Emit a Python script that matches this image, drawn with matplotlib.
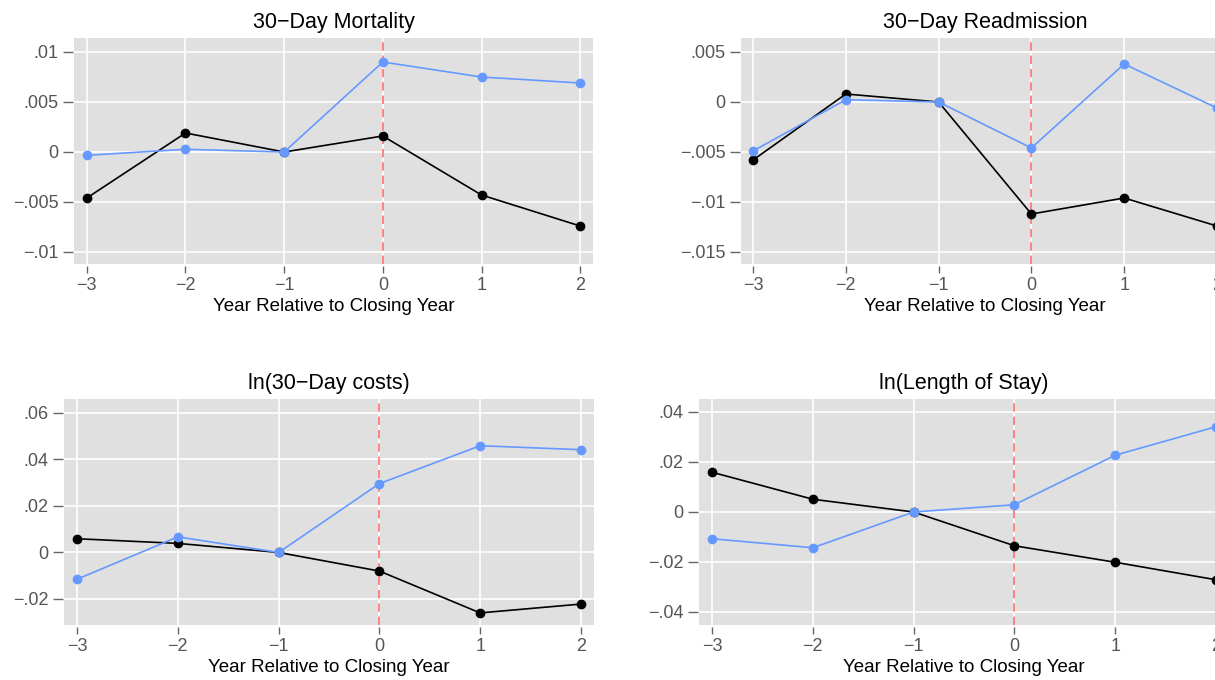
import matplotlib
matplotlib.use("Agg")
import matplotlib.pyplot as plt

plt.rcParams['font.family'] = ['Liberation Sans', 'DejaVu Sans']

# años relativos al cierre
years = [-3, -2, -1, 0, 1, 2]

# 30-Day Mortality
mort_blue = [-0.00033, 0.00027, 0.0, 0.0090, 0.0075, 0.0069]
mort_black = [-0.0046, 0.0019, 0.0, 0.0016, -0.0043, -0.0074]
mort_ticks = [-0.01, -0.005, 0, 0.005, 0.01]
mort_labels = ['\u2212.01', '\u2212.005', '0', '.005', '.01']

# 30-Day Readmission
readm_blue = [-0.0049, 0.00023, 0.0, -0.0046, 0.0038, -0.0006]
readm_black = [-0.0058, 0.0008, 0.0, -0.0112, -0.0096, -0.0124]
readm_ticks = [-0.015, -0.01, -0.005, 0, 0.005]
readm_labels = ['\u2212.015', '\u2212.01', '\u2212.005', '0', '.005']

# ln(30-Day costs)
cost_blue = [-0.0115, 0.0067, 0.0, 0.0296, 0.0459, 0.0442]
cost_black = [0.0059, 0.0039, 0.0, -0.0080, -0.0260, -0.0222]
cost_ticks = [-0.02, 0, 0.02, 0.04, 0.06]
cost_labels = ['\u2212.02', '0', '.02', '.04', '.06']

# ln(Length of Stay)
los_blue = [-0.0107, -0.0143, 0.0, 0.0029, 0.0227, 0.0341]
los_black = [0.0159, 0.0051, 0.0, -0.0135, -0.0201, -0.0271]
los_ticks = [-0.04, -0.02, 0, 0.02, 0.04]
los_labels = ['\u2212.04', '\u2212.02', '0', '.02', '.04']

titles = ['30\u2212Day Mortality', '30\u2212Day Readmission',
          'ln(30\u2212Day costs)', 'ln(Length of Stay)']

W, H = 1215, 680
fig = plt.figure(figsize=(W / 100, H / 100), dpi=100)

# posiciones en pixeles: (izq, arriba, ancho, alto)
boxes = [(74, 38, 519, 226), (741, 38, 488, 226),
         (64, 399, 530, 226), (699, 399, 530, 226)]
ylims = [(-0.0112, 0.0114), (-0.0162, 0.0064),
         (-0.0312, 0.066), (-0.0452, 0.0452)]

panels = [
    (mort_blue, mort_black, mort_ticks, mort_labels),
    (readm_blue, readm_black, readm_ticks, readm_labels),
    (cost_blue, cost_black, cost_ticks, cost_labels),
    (los_blue, los_black, los_ticks, los_labels),
]

blue = '#6699ff'
tick_col = '#666666'

for i, (b, k, yt, yl) in enumerate(panels):
    x0, top, w, h = boxes[i]
    ax = fig.add_axes([x0 / W, 1 - (top + h) / H, w / W, h / H])
    ax.set_facecolor('#e0e0e0')
    for s in ax.spines.values():
        s.set_visible(False)
    ax.spines['left'].set_position(('outward', 1))
    ax.spines['bottom'].set_position(('outward', 1.5))

    ax.set_xlim(-3.13, 2.13)
    ax.set_ylim(*ylims[i])
    ax.set_xticks(years)
    ax.set_xticklabels(['\u22123', '\u22122', '\u22121', '0', '1', '2'])
    ax.set_yticks(yt)
    ax.set_yticklabels(yl)

    ax.grid(True, color='white', linewidth=1.2)
    ax.set_axisbelow(True)
    ax.tick_params(axis='y', length=7, width=1, color=tick_col,
                   labelcolor='#555555', labelsize=13, pad=3)
    ax.tick_params(axis='x', length=5, width=1, color=tick_col,
                   labelcolor='#555555', labelsize=13, pad=3)

    ax.axvline(0, color='#ff6e6e', linestyle=(0, (5, 3)), linewidth=1.2, zorder=2)
    ax.plot(years, k, color='black', linewidth=1.2, marker='o',
            markersize=6, zorder=3)
    ax.plot(years, b, color=blue, linewidth=1.2, marker='o',
            markersize=6, zorder=4)

    ax.set_title(titles[i], fontsize=15.5, pad=7)
    ax.set_xlabel('Year Relative to Closing Year', fontsize=13.5, labelpad=3)

fig.savefig('out.png', dpi=100)
